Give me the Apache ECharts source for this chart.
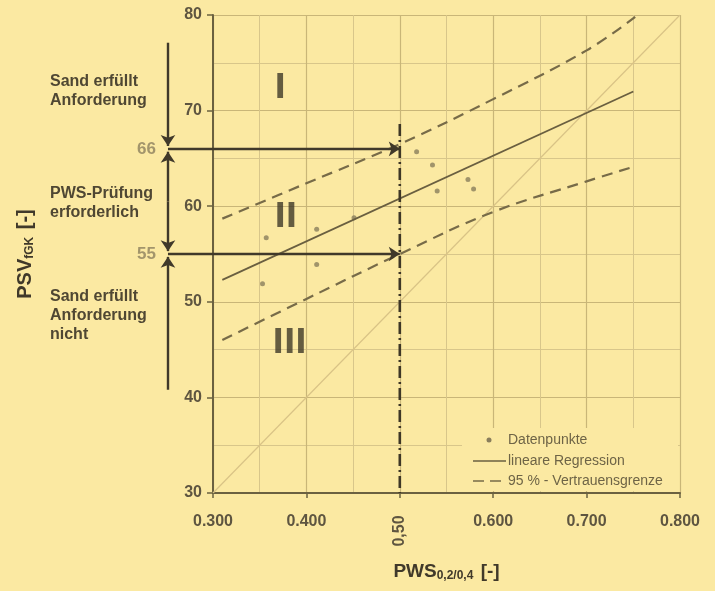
<!DOCTYPE html>
<html>
<head>
<meta charset="utf-8">
<script src="https://cdn.jsdelivr.net/npm/echarts@6/dist/echarts.min.js"></script>
<style>
  html, body { margin: 0; padding: 0; background: #fbe9a2; }
  #chart { width: 715px; height: 591px; }
</style>
</head>
<body>
<div id="chart"></div>
<script>
// values
const dataPoints = [
  [0.353, 51.9], [0.357, 56.7], [0.411, 53.9], [0.411, 57.6], [0.451, 58.8],
  [0.518, 65.7], [0.535, 64.3], [0.540, 61.6], [0.573, 62.8], [0.579, 61.8]
];
const regression = [[0.31, 52.3], [0.75, 72.0]];
const upperBound = [[0.31, 58.7], [0.40, 62.4], [0.50, 66.5], [0.60, 71.2], [0.70, 76.3], [0.752, 79.8]];
const lowerBound = [[0.31, 46.0], [0.40, 50.3], [0.50, 55.0], [0.60, 59.4], [0.70, 62.6], [0.746, 64.0]];
const diagonal = [[0.3, 30], [0.8, 80]];
const limitX = 0.5;
const limitTop = 68.6;
const thresholds = [66, 55];
const arrowX = 0.2518;      // the vertical arrow bar left of the axis
const arrowTop = 77.1, arrowBottom = 40.8;
const zones = [
  { name: 'I', x: 0.372, y: 72.2 },
  { name: 'II', x: 0.378, y: 58.8 },
  { name: 'III', x: 0.382, y: 45.6 }
];
const legendItems = ['Datenpunkte', 'lineare Regression', '95 % - Vertrauensgrenze'];

const BG = '#fbe9a2';
const DARK = '#40392a';
const TEXT = '#4f4733';
const FONT = "'Liberation Sans', Arial, sans-serif";

const arrowLines = [
  { coords: [[arrowX, thresholds[0]], [limitX, thresholds[0]]] },
  { coords: [[arrowX, thresholds[1]], [limitX, thresholds[1]]] },
  { coords: [[arrowX, arrowTop], [arrowX, thresholds[0] + 0.3]] },
  { coords: [[arrowX, 60.5], [arrowX, thresholds[0] - 0.3]] },
  { coords: [[arrowX, 60.5], [arrowX, thresholds[1] + 0.3]] },
  { coords: [[arrowX, arrowBottom], [arrowX, thresholds[1] - 0.3]] }
];

const chart = echarts.init(document.getElementById('chart'));
chart.setOption({
  backgroundColor: BG,
  animation: false,
  textStyle: { fontFamily: FONT },
  grid: { left: 213, right: 35, top: 15, bottom: 98, outerBoundsMode: 'none', containLabel: false },
  xAxis: {
    type: 'value', min: 0.3, max: 0.8, interval: 0.1,
    name: 'PWS{sub|0,2/0,4} [-]',
    nameLocation: 'middle', nameGap: 68,
    nameTextStyle: {
      fontSize: 19, fontWeight: 'bold', color: DARK, fontFamily: FONT,
      rich: { sub: { fontSize: 12, fontWeight: 'bold', color: DARK, padding: [9, 2, 0, 0] } }
    },
    axisLine: { show: true, onZero: false, lineStyle: { color: '#6b6140', width: 2 } },
    axisTick: { show: true, inside: false, length: 5, lineStyle: { color: '#6b6140', width: 1.5 } },
    axisLabel: {
      fontSize: 16, fontWeight: 'bold', color: '#5e5540', margin: 21,
      formatter: function (v) { return Math.abs(v - limitX) < 1e-6 ? '' : v.toFixed(3); }
    },
    splitLine: { show: true, lineStyle: { color: '#c9b678', width: 1.2 } },
    minorTick: { show: false, splitNumber: 2 },
    minorSplitLine: { show: true, lineStyle: { color: '#d8c68a', width: 1 } }
  },
  yAxis: {
    type: 'value', min: 30, max: 80, interval: 10,
    name: 'PSV{sub|fGK} [-]',
    nameLocation: 'middle', nameGap: 177, nameRotate: 90,
    nameTextStyle: {
      fontSize: 20, fontWeight: 'bold', color: DARK, fontFamily: FONT,
      rich: { sub: { fontSize: 12, fontWeight: 'bold', color: DARK, padding: [10, 2, 0, 0] } }
    },
    axisLine: { show: true, onZero: false, lineStyle: { color: '#6b6140', width: 2 } },
    axisTick: { show: true, length: 6, lineStyle: { color: '#6b6140', width: 1.5 } },
    axisLabel: { fontSize: 16, fontWeight: 'bold', color: '#5e5540', margin: 11 },
    splitLine: { show: true, lineStyle: { color: '#c9b678', width: 1.2 } },
    minorTick: { show: false, splitNumber: 2 },
    minorSplitLine: { show: true, lineStyle: { color: '#d8c68a', width: 1 } }
  },
  series: [
    {
      type: 'line', data: diagonal, symbol: 'none', z: 1,
      lineStyle: { color: '#d9c386', width: 1.2 }
    },
    {
      type: 'line', data: regression, symbol: 'none',
      lineStyle: { color: '#6a5f40', width: 1.8 }
    },
    {
      type: 'line', data: upperBound, symbol: 'none', smooth: 0.4,
      lineStyle: { color: '#776b48', width: 2.2, type: [11, 7] }
    },
    {
      type: 'line', data: lowerBound, symbol: 'none', smooth: 0.4,
      lineStyle: { color: '#776b48', width: 2.2, type: [11, 7] }
    },
    {
      type: 'scatter', data: dataPoints, symbol: 'circle', symbolSize: 5,
      itemStyle: { color: '#8a7e5c' }
    },
    {
      type: 'line', data: [[limitX, limitTop], [limitX, 30]], symbol: 'none',
      lineStyle: { color: '#3e3726', width: 2.6, type: [12, 4, 2, 4] }
    },
    {
      type: 'lines', coordinateSystem: 'cartesian2d', clip: false, z: 5,
      symbol: ['none', 'arrow'], symbolSize: [0, 11],
      lineStyle: { color: DARK, width: 2.4, opacity: 1 },
      data: arrowLines
    },
    {
      type: 'scatter', clip: false, symbolSize: 0, silent: true,
      data: thresholds.map(t => ({ value: [arrowX, t], name: String(t) })),
      label: {
        show: true, position: 'left', distance: 12, formatter: '{b}',
        fontSize: 17, fontWeight: 'bold', color: '#8c805e', fontFamily: FONT
      }
    },
    {
      type: 'scatter', symbolSize: 0, silent: true,
      data: zones.map(z => ({ value: [z.x, z.y], name: z.name })),
      label: {
        show: true, position: 'inside', formatter: '{b}',
        fontSize: 34, fontWeight: 'bold', color: '#3f3828',
        fontFamily: "'Liberation Sans Narrow', 'DejaVu Sans Condensed', sans-serif"
      }
    }
  ]
});

// texts placed next to the chart, relative to the axis
const p50 = chart.convertToPixel({ gridIndex: 0 }, [limitX, 30]);
const sideStyle = { font: 'bold 16px ' + FONT, fill: TEXT, lineHeight: 19 };
const legX = 462, legY = 428;
const legFont = '14px ' + FONT;
chart.setOption({
  graphic: [
    {
      type: 'text', x: p50[0], y: p50[1] + 38, rotation: Math.PI / 2,
      style: { text: '0,50', font: 'bold 16px ' + FONT, fill: '#5e5540', align: 'center', verticalAlign: 'middle' }
    },
    { type: 'text', x: 50, y: 72, style: Object.assign({ text: 'Sand erfüllt\nAnforderung' }, sideStyle) },
    { type: 'text', x: 50, y: 184, style: Object.assign({ text: 'PWS-Prüfung\nerforderlich' }, sideStyle) },
    { type: 'text', x: 50, y: 287, style: Object.assign({ text: 'Sand erfüllt\nAnforderung\nnicht' }, sideStyle) },
    // legend box
    { type: 'rect', shape: { x: legX, y: legY, width: 216, height: 63 }, style: { fill: BG }, z: 10 },
    { type: 'circle', shape: { cx: 489, cy: 440, r: 2.5 }, style: { fill: '#8a7e5c' }, z: 11 },
    { type: 'line', shape: { x1: 473, y1: 461, x2: 506, y2: 461 }, style: { stroke: '#6a5f40', lineWidth: 1.6 }, z: 11 },
    { type: 'line', shape: { x1: 473, y1: 481, x2: 505, y2: 481 }, style: { stroke: '#776b48', lineWidth: 1.6, lineDash: [11, 6] }, z: 11 },
    { type: 'text', x: 508, y: 440, style: { text: legendItems[0], font: legFont, fill: '#6e6446', verticalAlign: 'middle' }, z: 11 },
    { type: 'text', x: 508, y: 461, style: { text: legendItems[1], font: legFont, fill: '#6e6446', verticalAlign: 'middle' }, z: 11 },
    { type: 'text', x: 508, y: 481, style: { text: legendItems[2], font: legFont, fill: '#6e6446', verticalAlign: 'middle' }, z: 11 }
  ]
});
</script>
</body>
</html>
